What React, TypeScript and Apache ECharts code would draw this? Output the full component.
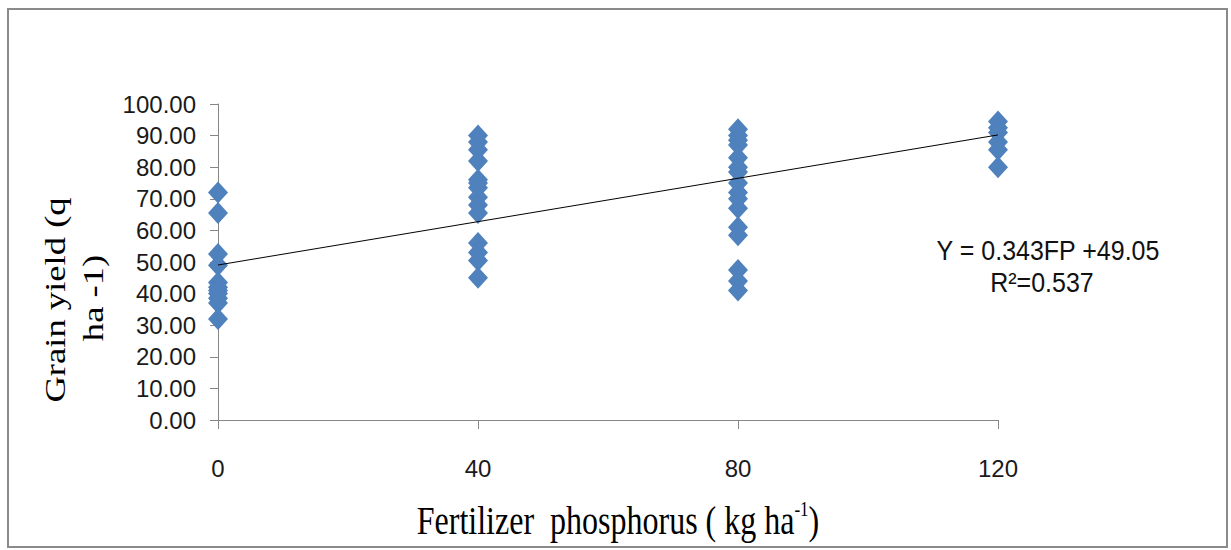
import React, { useEffect, useRef } from "react";
import * as echarts from "echarts";

const doses = [0, 40, 80, 120];
const yield0 = [72, 65.5, 52.5, 49, 43.5, 42, 41, 40, 38.5, 37, 32];
const yield40 = [90, 88, 85.5, 82, 76, 75, 73.5, 70.5, 68, 65.5, 56, 53, 50.5, 45];
const yield80 = [92, 90, 88.5, 87, 83, 80, 78.5, 75, 72, 70, 67, 61, 58.5, 47.5, 44, 41];
const yield120 = [94.5, 92.5, 91, 88, 85.5, 80];
const slope = 0.343;
const intercept = 49.05;
const yTicks = { min: 0, max: 100, interval: 10 };
const xTicks = { min: 0, max: 120, interval: 40 };

export default function App() {
  const ref = useRef<HTMLDivElement>(null);
  useEffect(() => {
    if (!ref.current) return;
    const chart = echarts.init(ref.current, null, { renderer: "svg" });
    const groups = [yield0, yield40, yield80, yield120];
    const points: number[][] = [];
    groups.forEach((g, i) => g.forEach((v) => points.push([doses[i], v])));
    const trend = [
      [xTicks.min, intercept + slope * xTicks.min],
      [xTicks.max, intercept + slope * xTicks.max],
    ];
    const axisGray = "#878787";
    chart.setOption({
      animation: false,
      backgroundColor: "#ffffff",
      grid: { left: 218, right: 233, top: 104, bottom: 130 },
      xAxis: {
        type: "value",
        min: xTicks.min,
        max: xTicks.max,
        interval: xTicks.interval,
        splitLine: { show: false },
        axisLine: { show: true, onZero: false, lineStyle: { color: axisGray, width: 1 } },
        axisTick: { show: true, length: 9, lineStyle: { color: axisGray } },
        axisLabel: {
          color: "#1a1a1a",
          fontFamily: "Liberation Sans",
          fontSize: 24,
          margin: 36,
        },
      },
      yAxis: {
        type: "value",
        min: yTicks.min,
        max: yTicks.max,
        interval: yTicks.interval,
        splitLine: { show: false },
        axisLine: { show: true, lineStyle: { color: axisGray, width: 1 } },
        axisTick: { show: true, length: 8, lineStyle: { color: axisGray } },
        axisLabel: {
          color: "#1a1a1a",
          fontFamily: "Liberation Sans",
          fontSize: 24,
          margin: 22,
          formatter: (v: number) => v.toFixed(2),
        },
      },
      series: [
        {
          type: "scatter",
          data: points,
          symbol: "diamond",
          symbolSize: [20, 22],
          itemStyle: { color: "#4F81BD", opacity: 1 },
        },
        {
          type: "line",
          data: trend,
          symbol: "none",
          lineStyle: { color: "#000000", width: 1 },
        },
      ],
      graphic: [
        {
          type: "rect",
          shape: { x: 8, y: 9, width: 1219, height: 538 },
          style: { fill: "none", stroke: "#8a8a8a", lineWidth: 2 },
          silent: true,
        },
        {
          type: "text",
          x: 55,
          y: 300,
          rotation: Math.PI / 2,
          scaleX: 1.22,
          style: {
            text: "Grain yield (q",
            font: "30px 'Liberation Serif'",
            fill: "#000",
            align: "center",
            verticalAlign: "middle",
          },
        },
        {
          type: "text",
          x: 93,
          y: 298,
          rotation: Math.PI / 2,
          scaleX: 1.22,
          style: {
            text: "ha -1)",
            font: "30px 'Liberation Serif'",
            fill: "#000",
            align: "center",
            verticalAlign: "middle",
          },
        },
        {
          type: "text",
          x: 618,
          y: 521,
          scaleY: 1.25,
          style: {
            text: "{m|Fertilizer  phosphorus ( kg ha}{s|-1}{m|)}",
            fill: "#000",
            align: "center",
            verticalAlign: "middle",
            rich: {
              m: { fontFamily: "Liberation Serif", fontSize: 32, fill: "#000", lineHeight: 36 },
              s: { fontFamily: "Liberation Serif", fontSize: 17, fill: "#000", lineHeight: 36, verticalAlign: "top", padding: [0, 0, 12, 0] },
            },
          },
        },
        {
          type: "text",
          x: 1048,
          y: 251,
          scaleY: 1.1,
          style: {
            text: "Y = 0.343FP +49.05",
            font: "25px 'Liberation Sans'",
            fill: "#111",
            align: "center",
            verticalAlign: "middle",
          },
        },
        {
          type: "text",
          x: 1042,
          y: 283,
          scaleY: 1.1,
          style: {
            text: "R²=0.537",
            font: "25px 'Liberation Sans'",
            fill: "#111",
            align: "center",
            verticalAlign: "middle",
          },
        },
      ],
    });
    return () => chart.dispose();
  }, []);
  return (
    <div
      ref={ref}
      style={{ position: "fixed", left: 0, top: 0, width: 1231, height: 550 }}
    />
  );
}
